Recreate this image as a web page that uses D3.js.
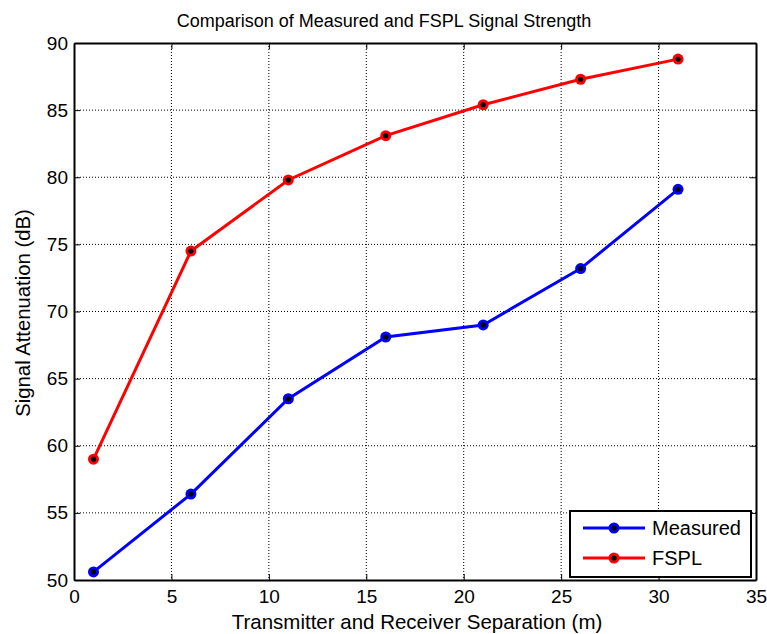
<!DOCTYPE html>
<html><head><meta charset="utf-8">
<script src="https://cdn.jsdelivr.net/npm/d3@7"></script>
<style>body{margin:0;background:#fff;} text{font-family:"Liberation Sans",Arial,sans-serif;}</style>
</head><body>
<svg id="c" width="767" height="634"></svg>
<script>
const distances = [1, 6, 11, 16, 21, 26, 31];
const measured = [50.6, 56.4, 63.5, 68.1, 69.0, 73.2, 79.1];
const fspl = [59.0, 74.5, 79.8, 83.1, 85.4, 87.3, 88.8];
const xTicks = [0, 5, 10, 15, 20, 25, 30, 35];
const yTicks = [50, 55, 60, 65, 70, 75, 80, 85, 90];
const seriesNames = ["Measured", "FSPL"];
const seriesColors = ["#0000ff", "#ff0000"];

const svg = d3.select("#c");
const L = 74, R = 756, T = 43, B = 580;
const x = d3.scaleLinear().domain([0, 35]).range([L, R]);
const y = d3.scaleLinear().domain([50, 90]).range([B, T]);

// grid
const g = svg.append("g");
g.selectAll(".gx").data(xTicks.slice(1, -1)).enter().append("line")
  .attr("x1", d => x(d)).attr("x2", d => x(d)).attr("y1", T).attr("y2", B)
  .attr("stroke", "#000").attr("stroke-width", 1).attr("stroke-dasharray", "1,2");
g.selectAll(".gy").data(yTicks.slice(1, -1)).enter().append("line")
  .attr("y1", d => y(d)).attr("y2", d => y(d)).attr("x1", L).attr("x2", R)
  .attr("stroke", "#000").attr("stroke-width", 1).attr("stroke-dasharray", "1,2");

// axes with inward ticks
const fs = "19px";
const axB = svg.append("g").attr("transform", `translate(0,${B})`)
  .call(d3.axisBottom(x).tickValues(xTicks).tickSizeInner(-6).tickSizeOuter(0).tickPadding(10));
const axT = svg.append("g").attr("transform", `translate(0,${T})`)
  .call(d3.axisTop(x).tickValues(xTicks).tickSizeInner(-6).tickSizeOuter(0).tickFormat(""));
const axL = svg.append("g").attr("transform", `translate(${L},0)`)
  .call(d3.axisLeft(y).tickValues(yTicks).tickSizeInner(-6).tickSizeOuter(0).tickPadding(6));
const axR = svg.append("g").attr("transform", `translate(${R},0)`)
  .call(d3.axisRight(y).tickValues(yTicks).tickSizeInner(-6).tickSizeOuter(0).tickFormat(""));
[axB, axT, axL, axR].forEach(a => {
  a.selectAll("path").attr("stroke", "#000").attr("stroke-width", 2);
  a.selectAll("line").attr("stroke", "#000").attr("stroke-width", 1);
  a.selectAll("text").attr("fill", "#000").style("font-size", fs).style("font-family", '"Liberation Sans",Arial,sans-serif');
});

// lines
const line = d3.line().x((d, i) => x(distances[i])).y(d => y(d));
[measured, fspl].forEach((vals, si) => {
  svg.append("path").datum(vals).attr("d", line).attr("fill", "none")
    .attr("stroke", seriesColors[si]).attr("stroke-width", 3);
  svg.selectAll(null).data(vals).enter().append("circle")
    .attr("cx", (d, i) => x(distances[i])).attr("cy", d => y(d)).attr("r", 5.5)
    .attr("fill", seriesColors[si]);
  svg.selectAll(null).data(vals).enter().append("circle")
    .attr("cx", (d, i) => x(distances[i])).attr("cy", d => y(d)).attr("r", 2.6)
    .attr("fill", "#000");
});

// title and labels
svg.append("text").attr("x", 384).attr("y", 27).attr("text-anchor", "middle")
  .style("font-size", "18px").text("Comparison of Measured and FSPL Signal Strength");
svg.append("text").attr("x", 417).attr("y", 629).attr("text-anchor", "middle")
  .style("font-size", "20.5px").text("Transmitter and Receiver Separation (m)");
svg.append("text").attr("transform", `translate(30,313) rotate(-90)`).attr("text-anchor", "middle")
  .style("font-size", "20.3px").text("Signal Attenuation (dB)");

// legend
const lg = svg.append("g");
lg.append("rect").attr("x", 570).attr("y", 511).attr("width", 181).attr("height", 66)
  .attr("fill", "#fff").attr("stroke", "#000").attr("stroke-width", 2);
seriesNames.forEach((n, i) => {
  const yy = 528 + i * 30;
  lg.append("line").attr("x1", 583).attr("x2", 645).attr("y1", yy).attr("y2", yy)
    .attr("stroke", seriesColors[i]).attr("stroke-width", 3);
  lg.append("circle").attr("cx", 614).attr("cy", yy).attr("r", 5.5).attr("fill", seriesColors[i]);
  lg.append("circle").attr("cx", 614).attr("cy", yy).attr("r", 2.6).attr("fill", "#000");
  lg.append("text").attr("x", 652).attr("y", yy + 7).style("font-size", "20px").text(n);
});
</script>
</body></html>
